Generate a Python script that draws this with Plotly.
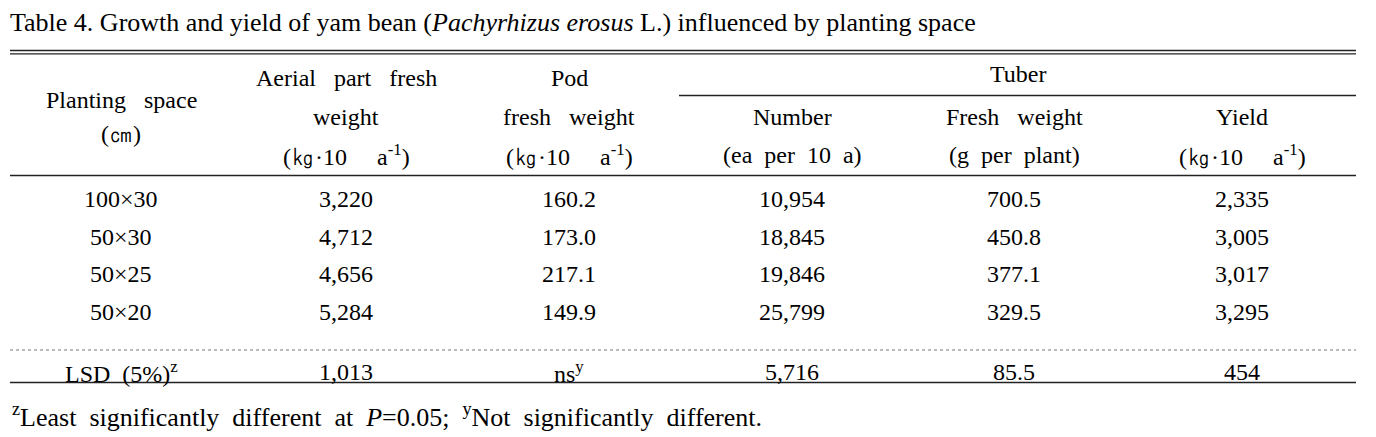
import plotly.graph_objects as go

W, H = 1376, 437
OFF = 8  # default page body margin
FONT = "Liberation Serif, Times New Roman, serif"

title = "Table 4. Growth and yield of yam bean (<i>Pachyrhizus erosus</i> L.) influenced by planting space"

spacing = ["100×30", "50×30", "50×25", "50×20"]
aerial = ["3,220", "4,712", "4,656", "5,284"]
pod = ["160.2", "173.0", "217.1", "149.9"]
tuber_number = ["10,954", "18,845", "19,846", "25,799"]
tuber_weight = ["700.5", "450.8", "377.1", "329.5"]
tuber_yield = ["2,335", "3,005", "3,017", "3,295"]
lsd_label = "LSD\u2002(5%)<sup>z</sup>"
lsd = ["1,013", "ns<sup>y</sup>", "5,716", "85.5", "454"]
footnote = ("<sup>z</sup>Least\u2002significantly\u2002different\u2002at\u2002<i>P</i>=0.05;\u2002"
            "<sup>y</sup>Not\u2002significantly\u2002different.")

S = " \u2002"
unit = "(㎏·10\u2002\u2002\u00a0a<sup>-1</sup>)"
headers = [
    [("Planting\u2002\u00a0space", 100), ("(㎝)", 134)],
    [("Aerial" + S + "part" + S + "fresh", 78), ("weight", 117), (unit, 155)],
    [("Pod", 78), ("fresh" + S + "weight", 117), (unit, 155)],
    [("Number", 117), ("(ea\u2002per\u200210\u2002a)", 155)],
    [("Fresh" + S + "weight", 117), ("(g\u2002per\u2002plant)", 155)],
    [("Yield", 117), (unit, 155)],
]
col_x = [121, 346, 569, 792, 1014, 1242]
row_y = [199, 237, 274, 312]
lsd_y = 372

fig = go.Figure()
fig.add_trace(go.Scatter(x=[OFF + 1], y=[OFF + 1], mode="markers", marker=dict(opacity=0),
                         hoverinfo="skip", showlegend=False))

ann = []
def txt(x, y, s, size=24, xanchor="center"):
    ann.append(dict(x=x, y=y, xref="x", yref="y", text=s, showarrow=False,
                    xanchor=xanchor, yanchor="middle",
                    font=dict(family=FONT, size=size, color="black")))

txt(8, 22, title, size=26, xanchor="left")
for cx, lines in zip(col_x, headers):
    for s, y in lines:
        txt(cx, y, s)
txt((679 + 1356) / 2, 74, "Tuber")

columns = [spacing, aerial, pod, tuber_number, tuber_weight, tuber_yield]
for cx, col in zip(col_x, columns):
    for y, v in zip(row_y, col):
        txt(cx, y, v)
txt(col_x[0], lsd_y, lsd_label)
for cx, v in zip(col_x[1:], lsd):
    txt(cx, lsd_y, v)
txt(10, 415, footnote, size=26, xanchor="left")

shapes = []
def hline(x0, x1, y, width=1.3, dash="solid", color="#222"):
    shapes.append(dict(type="line", xref="x", yref="y", x0=x0, x1=x1, y0=y, y1=y,
                       line=dict(color=color, width=width, dash=dash)))
hline(10, 1356, 50.5)
hline(10, 1356, 53.8)
hline(679, 1356, 95.5)
hline(10, 1356, 175.5)
hline(10, 1356, 350, width=1, dash="dot", color="#777")
hline(10, 1356, 382.5, width=1.5)

fig.update_layout(
    width=W - OFF, height=H - OFF, margin=dict(l=0, r=0, t=0, b=0),
    paper_bgcolor="white", plot_bgcolor="white",
    xaxis=dict(range=[OFF, W], visible=False, fixedrange=True),
    yaxis=dict(range=[H, OFF], visible=False, fixedrange=True),
    annotations=ann, shapes=shapes, showlegend=False,
)
fig.write_html("out.html", config={"displayModeBar": False})
